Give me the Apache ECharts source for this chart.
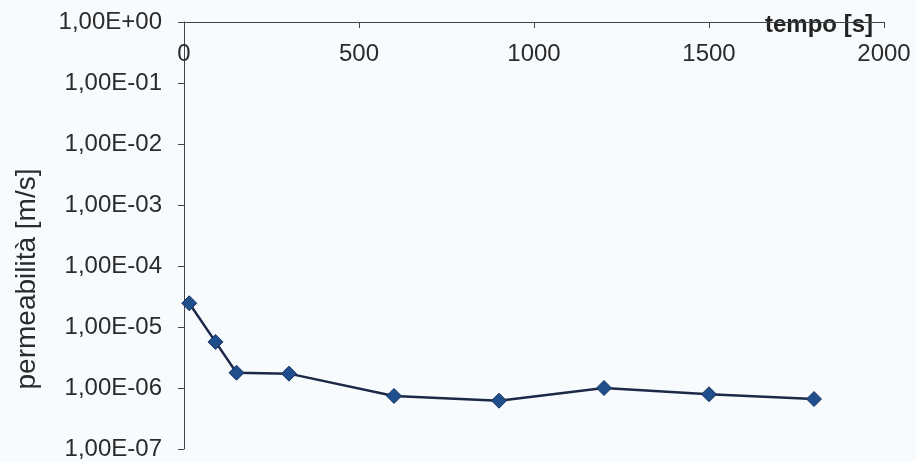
<!DOCTYPE html>
<html>
<head>
<meta charset="utf-8">
<script src="https://cdn.jsdelivr.net/npm/echarts@6/dist/echarts.min.js"></script>
<style>html,body{margin:0;padding:0;background:#f8fbfd;}#c{width:916px;height:461px;}</style>
</head>
<body>
<div id="c"></div>
<script>
var tempo = [15, 90, 150, 300, 600, 900, 1200, 1500, 1800];
var permeabilita = [2.45e-5, 5.7e-6, 1.78e-6, 1.72e-6, 7.4e-7, 6.2e-7, 1.0e-6, 7.9e-7, 6.6e-7];
var xTicks = [0, 500, 1000, 1500, 2000];
var yTickLabels = ['1,00E-07','1,00E-06','1,00E-05','1,00E-04','1,00E-03','1,00E-02','1,00E-01','1,00E+00'];
var xName = 'tempo [s]';
var yName = 'permeabilità [m/s]';

var chart = echarts.init(document.getElementById('c'));
var font = 'Arial, "Liberation Sans", sans-serif';
chart.setOption({
  backgroundColor: '#f8fbfd',
  animation: false,
  grid: {left: 184, right: 32, top: 22, bottom: 11, containLabel: false},
  xAxis: {
    type: 'value', position: 'top', min: xTicks[0], max: xTicks[xTicks.length-1], interval: 500,
    axisLine: {lineStyle: {color: '#444', width: 1}},
    axisTick: {inside: true, length: 6, lineStyle: {color: '#444'}},
    axisLabel: {inside: true, margin: 20, color: '#2b2b2b', fontSize: 24, fontFamily: font,
      formatter: function (v) { return String(v); }},
    splitLine: {show: false}
  },
  yAxis: {
    type: 'log', logBase: 10, min: 1e-7, max: 1,
    axisLine: {show: true, lineStyle: {color: '#444', width: 1}},
    axisTick: {show: true, length: 6, lineStyle: {color: '#444'}},
    axisLabel: {margin: 22, color: '#2b2b2b', fontSize: 24, fontFamily: font,
      formatter: function (v) { var e = Math.round(Math.log10(v)); return yTickLabels[e + 7]; }},
    splitLine: {show: false},
    minorTick: {show: false}
  },
  graphic: [
    {type: 'text', left: 765, top: 13, style: {text: xName, fontSize: 24, fontWeight: 'bold', fontFamily: font, fill: '#222'}},
    {type: 'text', x: 27, y: 279, rotation: Math.PI / 2,
      style: {text: yName, fontSize: 28, fontFamily: font, fill: '#2b2b2b', textAlign: 'center', textVerticalAlign: 'middle'}}
  ],
  series: [{
    type: 'line',
    data: tempo.map(function (t, i) { return [t, permeabilita[i]]; }),
    symbol: 'diamond', symbolSize: 15,
    lineStyle: {color: '#1b2847', width: 2.5},
    itemStyle: {color: '#1f4e8c', borderColor: '#17345f', borderWidth: 1}
  }]
});
</script>
</body>
</html>
